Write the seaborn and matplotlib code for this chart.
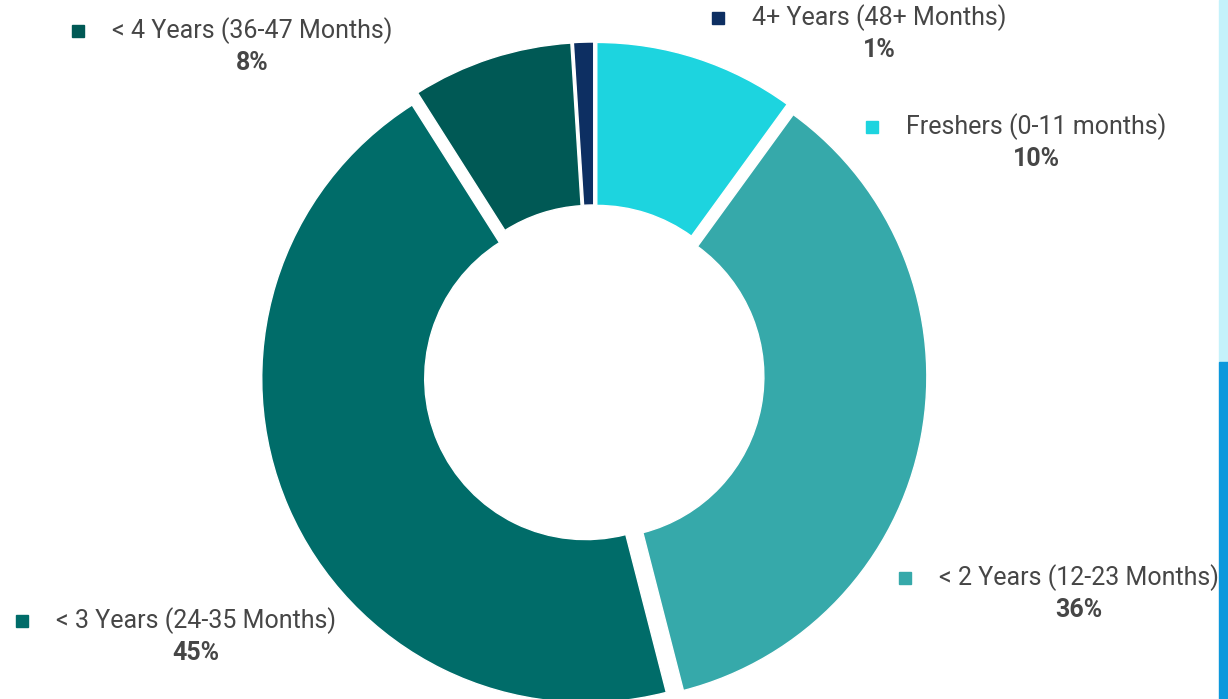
import matplotlib
matplotlib.use("Agg")
import matplotlib.pyplot as plt
import seaborn as sns
from matplotlib.patches import Rectangle

# data
labels = [
    "Freshers (0-11 months)",
    "< 2 Years (12-23 Months)",
    "< 3 Years (24-35 Months)",
    "< 4 Years (36-47 Months)",
    "4+ Years (48+ Months)",
]
shares = [10, 36, 45, 8, 1]
colors = ["#1dd4df", "#36a9aa", "#006c69", "#005955", "#0d2f62"]

# label anchor (left of marker, y) in image pixels, top-left origin
label_pos = [(866, 127), (899, 578), (16, 621), (72, 31), (712, 18)]

sns.set_theme(style="white")
plt.rcParams["font.family"] = ["Roboto", "DejaVu Sans"]

W, H = 1228, 699
fig = plt.figure(figsize=(W / 100, H / 100), dpi=100)
ax = fig.add_axes([0, 0, 1, 1])

cx, cy, r = 594, H - 375, 324
# pie explode offsets are in data units (pixels here)
ax.pie(
    shares,
    colors=colors,
    startangle=90,
    counterclock=False,
    center=(cx, cy),
    radius=r,
    explode=[9] * len(shares),
    frame=True,
    wedgeprops=dict(width=r * 0.503, edgecolor="white", linewidth=1),
)
ax.set_xlim(0, W)
ax.set_ylim(0, H)
ax.set_aspect("equal")
ax.axis("off")

text_col = "#464646"
for lab, val, col, (x, y) in zip(labels, shares, colors, label_pos):
    yy = H - y
    ax.add_patch(Rectangle((x, yy - 6), 12, 12, color=col, zorder=3))
    t = ax.text(x + 40, yy, lab, fontsize=18, color=text_col, va="center", ha="left")
    fig.canvas.draw()
    bb = t.get_window_extent().transformed(ax.transData.inverted())
    ax.text((bb.x0 + bb.x1) / 2, yy - 32, f"{val}%", fontsize=18, fontweight="bold",
            color=text_col, va="center", ha="center")

# screenshot edge strip on the right
fig.patches.append(Rectangle((1219 / W, (H - 362) / H), 9 / W, 362 / H,
                             transform=fig.transFigure, color="#c4f2fb", zorder=0))
fig.patches.append(Rectangle((1219 / W, 0), 9 / W, (H - 362) / H,
                             transform=fig.transFigure, color="#0b98dc", zorder=5))

fig.savefig("out.png", dpi=100, facecolor="white")
